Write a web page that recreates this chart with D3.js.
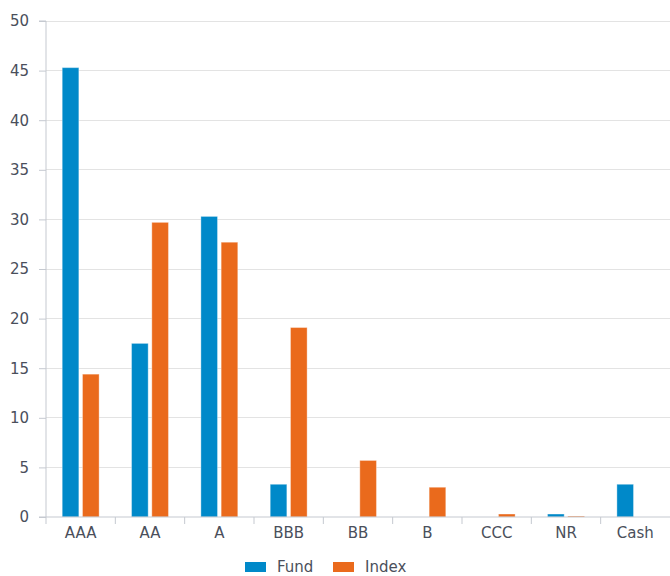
<!DOCTYPE html>
<html><head><meta charset="utf-8">
<script src="https://cdn.jsdelivr.net/npm/d3@7"></script>
<style>
html,body{margin:0;padding:0;background:#fff;}
svg text{font-family:"DejaVu Sans",Verdana,sans-serif;}
</style></head>
<body>
<svg id="chart" width="670" height="576"></svg>
<script>
const categories = ["AAA","AA","A","BBB","BB","B","CCC","NR","Cash"];
const fundValues = [45.3,17.5,30.3,3.3,0,0,0,0.3,3.3];
const indexValues = [14.4,29.7,27.7,19.1,5.7,3.0,0.3,0.1,0];
const seriesNames = ["Fund","Index"];
const seriesColors = ["#0089c9","#ea6a1c"];
const yTicks = [0,5,10,15,20,25,30,35,40,45,50];

const svg = d3.select("#chart");
const margin = {left:46, right:0, top:21, bottom:59};
const W = 670, H = 576;
const x = d3.scaleBand().domain(categories).range([margin.left, W - margin.right]).paddingInner(0).paddingOuter(0);
const y = d3.scaleLinear().domain([0,50]).range([H - margin.bottom, margin.top]);
const xs = d3.scaleBand().domain(seriesNames).range([0, x.bandwidth()]).paddingInner(0.18).paddingOuter(0.8);

// gridlines
svg.append("g").selectAll("line").data(yTicks.filter(d=>d>0)).join("line")
  .attr("x1", margin.left).attr("x2", W).attr("y1", d=>y(d)).attr("y2", d=>y(d))
  .attr("stroke", "#e3e3e3").attr("stroke-width", 1).attr("shape-rendering","crispEdges");

// bars
const data = categories.map((c,i)=>({cat:c, vals:[fundValues[i], indexValues[i]]}));
const groups = svg.append("g").selectAll("g").data(data).join("g")
  .attr("transform", d=>`translate(${x(d.cat)},0)`);
groups.selectAll("rect").data(d=>d.vals.map((v,j)=>({name:seriesNames[j], v, j}))).join("rect")
  .attr("x", d=>xs(d.name)).attr("width", xs.bandwidth())
  .attr("y", d=>y(d.v)).attr("height", d=>y(0)-y(d.v))
  .attr("fill", d=>seriesColors[d.j])
  .attr("stroke", "rgba(255,255,255,0.35)").attr("stroke-width", 1);

// y axis
const yAxis = d3.axisLeft(y).tickValues(yTicks).tickSize(7).tickPadding(10);
const gy = svg.append("g").attr("transform", `translate(${margin.left},0)`).call(yAxis);
gy.select(".domain").attr("stroke","#c5c9d0").attr("d", `M-7,${y(50)}H0V${y(0)}`);
gy.selectAll(".tick line").attr("stroke","#c5c9d0");
gy.selectAll("text").attr("fill","#4a4f5b").style("font-size","15px");

// x axis
const xAxis = d3.axisBottom(x).tickSize(0).tickPadding(10);
const gx = svg.append("g").attr("transform", `translate(0,${y(0)})`).call(xAxis);
gx.select(".domain").attr("stroke","#c5c9d0").attr("d", `M${margin.left - 7},0H${W}`);
gx.selectAll("text").attr("fill","#4a4f5b").style("font-size","15px");
// category separator ticks
gx.append("g").selectAll("line").data(categories).join("line")
  .attr("x1", d=>x(d)).attr("x2", d=>x(d)).attr("y1", 0).attr("y2", 7)
  .attr("stroke","#c5c9d0");

// legend
const legend = svg.append("g");
const legendItems = [{name:seriesNames[0], color:seriesColors[0], x:245},{name:seriesNames[1], color:seriesColors[1], x:333}];
const li = legend.selectAll("g").data(legendItems).join("g").attr("transform", d=>`translate(${d.x},562)`);
li.append("rect").attr("width",21).attr("height",10).attr("fill", d=>d.color);
li.append("text").attr("x",32).attr("y",10).text(d=>d.name)
  .attr("fill","#4a4f5b").style("font-size","15px");
</script>
</body></html>
